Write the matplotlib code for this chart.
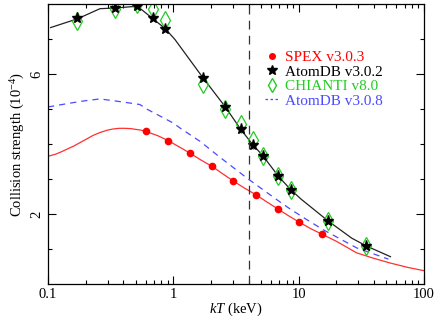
import numpy as np
import matplotlib
matplotlib.use("Agg")
import matplotlib.pyplot as plt
from matplotlib.lines import Line2D
from matplotlib.ticker import FixedLocator, NullFormatter

plt.rcParams['font.family'] = ['Liberation Serif', 'DejaVu Serif']
plt.rcParams['mathtext.fontset'] = 'custom'
plt.rcParams['mathtext.rm'] = 'Liberation Serif'
plt.rcParams['mathtext.it'] = 'Liberation Serif:italic'

# temperatures of the tabulated points (keV)
kt_pts = [0.172, 0.345, 0.517, 0.689, 0.862, 1.72, 2.59, 3.45, 4.31, 5.17, 6.89, 8.62, 17.2, 34.5]
atomdb302_pts = [7.59, 7.88, 7.96, 7.59, 7.30, 5.90, 5.07, 4.42, 3.98, 3.67, 3.08, 2.70, 1.80, 1.09]
chianti_pts = [7.53, 7.85, 8.0, 7.85, 7.54, 5.73, 5.0, 4.57, 4.13, 3.67, 3.08, 2.69, 1.80, 1.09]

# AtomDB v3.0.2 curve
kt_adb = [0.105, 0.172, 0.26, 0.345, 0.517, 0.689, 0.862, 1.03, 1.72, 2.59, 3.45, 4.31, 5.17,
          6.89, 8.62, 10.5, 17.2, 26.5, 34.5, 54.0]
adb_line = [7.33, 7.58, 7.87, 7.89, 7.94, 7.58, 7.30, 6.99, 5.90, 5.07, 4.42, 3.98, 3.67,
            3.08, 2.70, 2.42, 1.80, 1.31, 1.09, 0.78]

# SPEX v3.0.3
kt_spex_pts = [0.605, 0.908, 1.36, 2.04, 2.99, 4.57, 6.86, 10.07, 15.4]
spex_pts = [4.36, 4.10, 3.74, 3.36, 2.95, 2.55, 2.14, 1.77, 1.42]
kt_spex = [0.1, 0.115, 0.13, 0.145, 0.16, 0.18, 0.2, 0.23, 0.26, 0.3, 0.33, 0.37, 0.41, 0.46, 0.5,
           0.55, 0.605, 0.75, 0.908, 1.1, 1.36, 1.65, 2.04, 2.5, 2.99, 3.7, 4.57, 5.6, 6.86,
           8.3, 10.07, 12.5, 15.4, 20, 29, 40, 53.6, 75, 100]
spex_line = [3.65, 3.71, 3.79, 3.87, 3.94, 4.04, 4.13, 4.25, 4.33, 4.40, 4.43, 4.45, 4.45, 4.44, 4.42,
             4.40, 4.36, 4.24, 4.10, 3.93, 3.74, 3.55, 3.36, 3.14, 2.95, 2.74, 2.55, 2.34, 2.14,
             1.95, 1.77, 1.58, 1.42, 1.22, 0.89, 0.73, 0.60, 0.47, 0.38]

# AtomDB v3.0.8
kt_adb308 = [0.1, 0.15, 0.2, 0.26, 0.4, 0.541, 0.614, 1.0, 1.13, 1.63, 2.36, 3.96, 6.69,
             8.5, 11.6, 15.7, 29.1, 52.0]
adb308_line = [5.06, 5.17, 5.24, 5.29, 5.20, 5.13, 5.0, 4.60, 4.46, 4.08, 3.62, 3.0, 2.41,
               2.15, 1.84, 1.55, 1.03, 0.71]

kt_cut = 4.0

fig = plt.figure(figsize=(4.36, 3.18), dpi=100)
ax = fig.add_axes([0.110, 0.107, 0.8625, 0.880])

red = '#ff3030'
blue = '#4a4aff'
green = '#22cc22'

ax.plot(kt_spex, spex_line, color=red, lw=0.9)
ax.plot(kt_spex_pts, spex_pts, 'o', color='#ff0000', ms=4.5, mec='#ff0000')
ax.plot(kt_adb308, adb308_line, color=blue, lw=0.9, dashes=(5, 4))
ax.plot(kt_adb, adb_line, color='#222222', lw=0.9)
ax.plot(kt_pts, chianti_pts, 'd', ms=9, mfc='none', mec=green, mew=0.9)
ax.plot(kt_pts, atomdb302_pts, '*', ms=8, color='black')
ax.axvline(kt_cut, color='#333333', lw=0.9, dashes=(7, 5))

ax.set_xscale('log')
ax.set_xlim(0.1, 100)
ax.set_ylim(0, 8)
ax.xaxis.set_major_locator(FixedLocator([0.1, 1, 10, 100]))
ax.set_xticklabels(['0.1', '1', '10', '100'])
ax.xaxis.set_minor_formatter(NullFormatter())
ax.yaxis.set_major_locator(FixedLocator([2, 6]))
ax.yaxis.set_minor_locator(FixedLocator([1, 3, 4, 5, 7]))
ax.tick_params(which='both', direction='in', top=True, right=True, labelsize=10.5)
ax.tick_params(which='major', length=5.5, width=0.8)
ax.tick_params(which='minor', length=3, width=0.8)
ax.tick_params(axis='x', pad=3)
for lab in ax.get_yticklabels():
    lab.set_rotation(90)
    lab.set_va('center')
for s in ax.spines.values():
    s.set_linewidth(0.9)

ax.set_xlabel('$kT$ (keV)', fontsize=10.5, labelpad=0)
ax.set_ylabel('Collision strength (10$^{-4}$)', fontsize=10.5, labelpad=2)

handles = [
    Line2D([], [], marker='o', ls='none', color='#ff0000', ms=4),
    Line2D([], [], marker='*', ls='none', color='black', ms=7),
    Line2D([], [], marker='d', ls='none', mfc='none', mec=green, ms=7),
    Line2D([], [], color=blue, lw=0.9, dashes=(2, 2)),
]
labels = ['SPEX v3.0.3', 'AtomDB v3.0.2', 'CHIANTI v8.0', 'AtomDB v3.0.8']
leg = ax.legend(handles, labels, loc='upper left', bbox_to_anchor=(0.577, 0.835),
                frameon=False, fontsize=11, handlelength=0.9, handletextpad=0.4,
                labelspacing=0.06, borderpad=0, borderaxespad=0)
for txt, c in zip(leg.get_texts(), ['#ff0000', 'black', green, blue]):
    txt.set_color(c)

fig.savefig('out.png', dpi=100)
